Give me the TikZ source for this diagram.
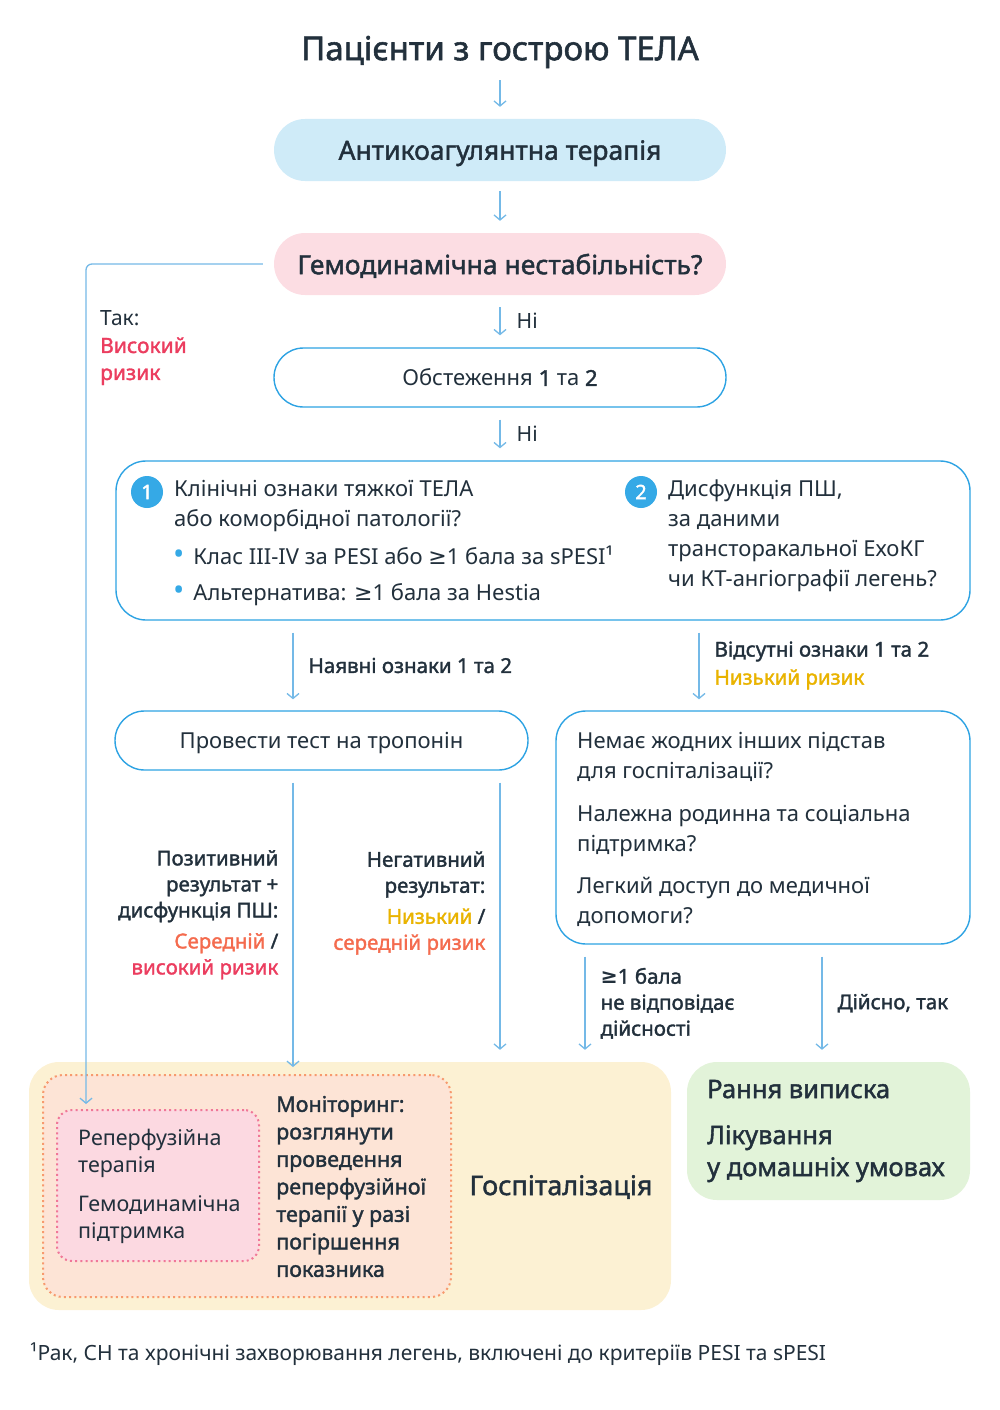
\documentclass[tikz,border=0pt]{standalone}
\usepackage{fontspec}
\setmainfont{Noto Sans}[AutoFakeBold=1.6]
\newfontfamily\symfont{DejaVu Sans}
\usetikzlibrary{arrows.meta}
\definecolor{textcol}{HTML}{22303C}
\definecolor{linecol}{HTML}{74B9E7}
\definecolor{boxcol}{HTML}{2EA3E3}
\definecolor{circcol}{HTML}{35A9E6}
\definecolor{bluefill}{HTML}{CFEBF8}
\definecolor{pinkfill}{HTML}{FCDDE3}
\definecolor{highrisk}{HTML}{EB3D5F}
\definecolor{midrisk}{HTML}{F46B4E}
\definecolor{lowrisk}{HTML}{E9B300}
\definecolor{hospfill}{HTML}{FCF1D3}
\definecolor{monfill}{HTML}{FDE4D6}
\definecolor{monline}{HTML}{F79A6E}
\definecolor{reperfill}{HTML}{FCD9E1}
\definecolor{reperline}{HTML}{F07798}
\definecolor{homefill}{HTML}{E2F3D9}
\newcommand\fsz[2]{\fontsize{#1}{#2}\selectfont}
\newcommand\gesym{{\symfont ≥}}
\newcommand\bul{{\fsz{30}{30}\textcolor{circcol}{•}}\hspace{9pt}}
\tikzset{
	arr/.style={draw=linecol, line width=1.3pt, -{Straight Barb[length=5pt,width=12pt]}},
	pill/.style={minimum width=452pt, minimum height=62pt, rounded corners=31pt, text depth=0pt},
	outline/.style={draw=boxcol, line width=1.4pt, fill=white},
	numcirc/.style={circle, fill=circcol, minimum size=32pt, text=white, font=\bfseries\fsz{20}{24}},
	body/.style={font=\fsz{22}{30}, align=left, anchor=west},
	lbl/.style={font=\bfseries\fsz{20.5}{26}, align=left, anchor=west},
	dotbox/.style={line width=2pt, dash pattern=on 2pt off 3.2pt}
}
\begin{document}
\begin{tikzpicture}[x=1pt, y=-1pt, every node/.style={text=textcol, inner sep=0pt}]
	\useasboundingbox (0,0) rectangle (1000,1410);
	\coordinate (colY) at (86,0);
	\coordinate (colA) at (293,0);
	\coordinate (colB) at (500,0);
	\coordinate (colC) at (585,0);
	\coordinate (colD) at (699,0);
	\coordinate (colE) at (822,0);

	\node [font=\bfseries\fsz{33}{36}] (title) at (500,52) {Пацієнти з гострою ТЕЛА};
	\node [pill, fill=bluefill, font=\bfseries\fsz{26.5}{30}] (anti) at (500,150) {Антикоагулянтна терапія};
	\node [pill, fill=pinkfill, font=\bfseries\fsz{26.5}{30}] (hemo) at (500,264) {Гемодинамічна нестабільність?};
	\node [pill, outline, minimum height=59pt, rounded corners=29.5pt, font=\fsz{22}{28}] (exam) at (500,377.5) {Обстеження \textbf{1} та \textbf{2}};

	\draw [arr, shorten <=12pt, shorten >=12pt] (title) -- (anti);
	\draw [arr, shorten <=10pt, shorten >=12pt] (anti) -- (hemo);
	\draw [arr, shorten <=12pt, shorten >=12pt] (hemo) -- (exam) node [midway, right=16pt, font=\fsz{21}{24}] {Ні};

	\node [outline, minimum width=854pt, minimum height=159pt, rounded corners=30pt] (crit) at (543,540.5) {};
	\node [numcirc] (n1) at (147,492) {1};
	\node [body] (critA) at (174,506) {Клінічні ознаки тяжкої ТЕЛА\\або коморбідної патології?};
	\node [body, font=\fsz{22}{36}] (critB) at (173,576) {\bul Клас III-IV за PESI або \gesym1 бала за sPESI¹\\\bul Альтернатива: \gesym1 бала за Hestia};
	\node [numcirc] (n2) at (641,492) {2};
	\node [body] (critC) at (668,536) {Дисфункція ПШ,\\за даними\\трансторакальної ЕхоКГ\\чи КТ-ангіографії легень?};

	\draw [arr, shorten <=12pt, shorten >=12pt] (exam.south -| colB) -- (crit.north -| colB) node [midway, right=16pt, font=\fsz{21}{24}] {Ні};

	\node [pill, outline, minimum width=413pt, minimum height=59pt, rounded corners=29.5pt, font=\fsz{22}{28}] (trop) at (321.5,740.5) {Провести тест на тропонін};
	\node [outline, minimum width=414pt, minimum height=233pt, rounded corners=30pt] (stay) at (763,827.5) {};
	\node [body] (stayq) at (577,829.5) {Немає жодних інших підстав\\для госпіталізації?\\[13pt]Належна родинна та соціальна\\підтримка?\\[12pt]Легкий доступ до медичної\\допомоги?};

	\draw [arr, shorten <=12pt, shorten >=11pt] (crit.south -| colA) -- (trop.north -| colA) node [midway, lbl, right=15pt] {Наявні ознаки 1 та 2};
	\draw [arr, shorten <=12pt, shorten >=11pt] (crit.south -| colD) -- (stay.north -| colD) node [midway, lbl, right=15pt, font=\bfseries\fsz{20.5}{28}] {Відсутні ознаки 1 та 2\\\textcolor{lowrisk}{Низький ризик}};

	\node [fill=hospfill, minimum width=642pt, minimum height=248pt, rounded corners=30pt] (hosp) at (350,1186) {};
	\node [dotbox, draw=monline, fill=monfill, minimum width=408pt, minimum height=222pt, rounded corners=20pt] (mon) at (247,1186) {};
	\node [dotbox, draw=reperline, fill=reperfill, minimum width=202pt, minimum height=151pt, rounded corners=15pt] (reper) at (158,1185.5) {};
	\node [lbl, font=\fsz{21.5}{27}] (repertext) at (78,1186.5) {Реперфузійна\\терапія\\[12pt]Гемодинамічна\\підтримка};
	\node [lbl, font=\bfseries\fsz{21.5}{27.5}] (montext) at (276,1186.5) {Моніторинг:\\розглянути\\проведення\\реперфузійної\\терапії у разі\\погіршення\\показника};
	\node [font=\bfseries\fsz{27}{30}] (hosptext) at (561,1187) {Госпіталізація};
	\node [fill=homefill, minimum width=283pt, minimum height=138pt, rounded corners=30pt] (home) at (828.5,1131) {};
	\node [lbl, font=\bfseries\fsz{25.5}{32}] (hometext) at (707,1131) {Рання виписка\\[14pt]Лікування\\у домашніх умовах};

	\draw [arr, shorten <=12pt, shorten >=7pt] (trop.south -| colA) -- (mon.north -| colA) node [pos=0.475, lbl, left=14pt, anchor=east, align=right] {Позитивний\\результат +\\дисфункція ПШ:\\[5pt]\textcolor{midrisk}{Середній} /\\\textcolor{highrisk}{високий ризик}};
	\draw [arr, shorten <=12pt, shorten >=12pt] (trop.south -| colB) -- (hosp.north -| colB) node [pos=0.455, lbl, left=14pt, anchor=east, align=right] {Негативний\\результат:\\[5pt]\textcolor{lowrisk}{Низький} /\\\textcolor{midrisk}{середній ризик}};
	\draw [arr, shorten <=12pt, shorten >=12pt] (stay.south -| colC) -- (hosp.north -| colC) node [midway, lbl, right=15pt] {\gesym1 бала\\не відповідає\\дійсності};
	\draw [arr, shorten <=12pt, shorten >=12pt] (stay.south -| colE) -- (home.north -| colE) node [midway, lbl, right=15pt] {Дійсно, так};

	\draw [arr, rounded corners=6pt, shorten <=11pt, shorten >=5pt] (hemo.west) -| (reper.north -| colY);
	\node [lbl, font=\bfseries\fsz{21}{27}] (yes) at (100,348) {\textmd{Так:}\\\textcolor{highrisk}{Високий}\\\textcolor{highrisk}{ризик}};

	\node [anchor=west, font=\fsz{21}{24}] (note) at (30,1354) {¹Рак, СН та хронічні захворювання легень, включені до критеріїв PESI та sPESI};
\end{tikzpicture}
\end{document}
